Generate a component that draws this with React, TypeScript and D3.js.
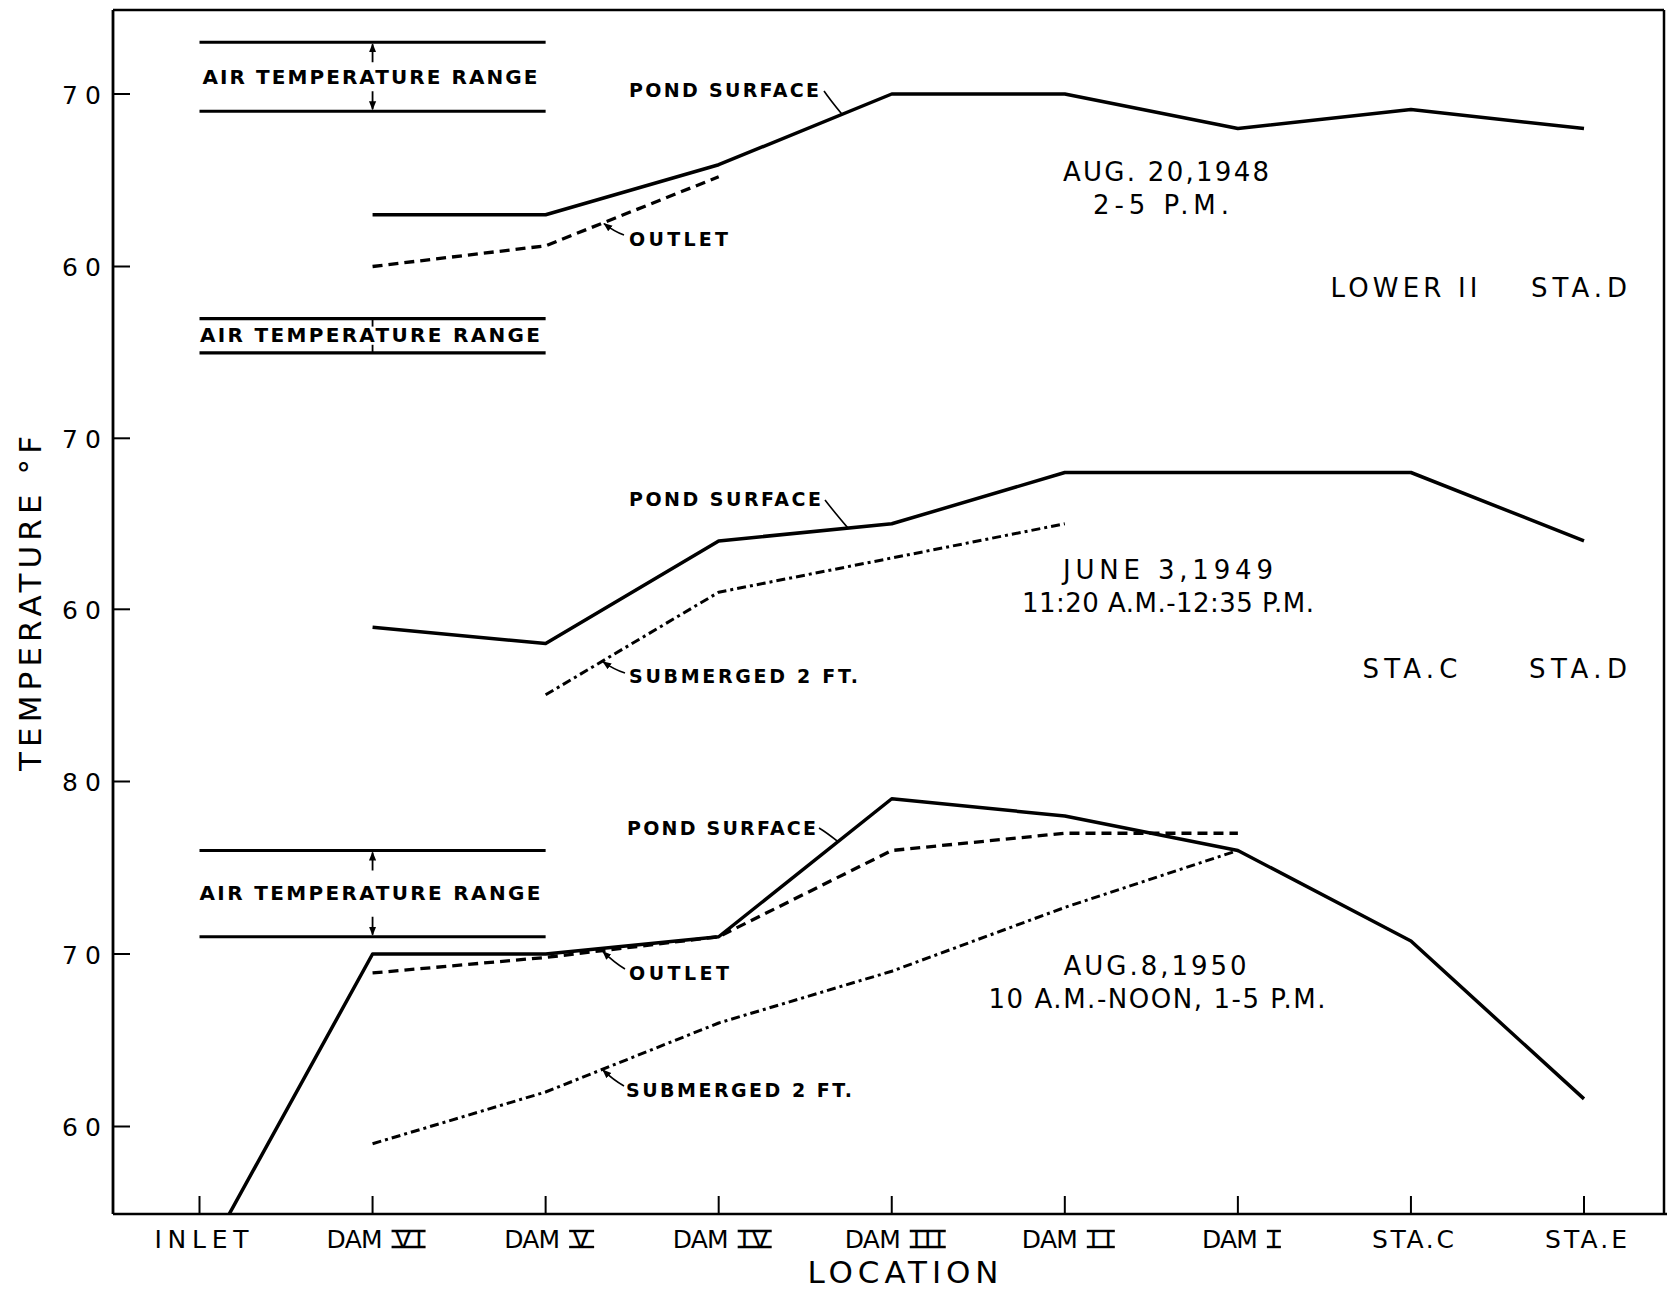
import React from "react";
import * as d3 from "d3";

// locations along the pond chain
const locations = ["INLET", "DAM VI", "DAM V", "DAM IV", "DAM III", "DAM II", "DAM I", "STA.C", "STA.E"];

// Aug 20, 1948
const pond1948 = [null, 63, 63, 65.9, 70, 70, 68, 69.1, 68];
const outlet1948 = [null, 60, 61.2, 65.2, null, null, null, null, null];
const air1948 = [69, 73];
const ticks1948 = [60, 70];

// June 3, 1949
const pond1949 = [null, 58.95, 58, 64, 65, 68, 68, 68, 64];
const sub1949 = [null, null, 55, 61, 63, 65, null, null, null];
const air1949 = [75, 77];
const ticks1949 = [60, 70];

// Aug 8, 1950
const pond1950 = [51.8, 70, 70, 71, 79, 78, 76, 70.75, 61.6];
const outlet1950 = [null, 68.9, 69.8, 71, 76, 77, 77, null, null];
const sub1950 = [null, 59, 62, 66, 69, 72.7, 76, null, null];
const air1950 = [71, 76];
const ticks1950 = [60, 70, 80];

const FONT = "DejaVu Sans";

type Series = (number | null)[];

export default function App() {
  const W = 1667;
  const H = 1289;
  const left = 113, right = 1664, top = 10, bottom = 1214;

  const x = d3.scalePoint<string>().domain(locations).range([199.5, 1584]);
  const y1 = d3.scaleLinear().domain([60, 70]).range([266.5, 94]);
  const y2 = d3.scaleLinear().domain([60, 70]).range([609.3, 438.3]);
  const y3 = d3.scaleLinear().domain([60, 80]).range([1126.5, 781.5]);

  const mkLine = (ys: d3.ScaleLinear<number, number>) =>
    d3.line<number | null>()
      .defined((d) => d != null)
      .x((_, i) => x(locations[i]) as number)
      .y((d) => ys(d as number));

  // y on a series' polyline at pixel px (for leader lines)
  const yAt = (s: Series, ys: d3.ScaleLinear<number, number>, px: number) => {
    for (let i = 0; i < s.length - 1; i++) {
      const x0 = x(locations[i]) as number, x1 = x(locations[i + 1]) as number;
      if (s[i] != null && s[i + 1] != null && px >= x0 && px <= x1) {
        const t = (px - x0) / (x1 - x0);
        return ys(s[i] as number) * (1 - t) + ys(s[i + 1] as number) * t;
      }
    }
    return 0;
  };

  const solid = { fill: "none", stroke: "#000", strokeWidth: 3.5, strokeLinejoin: "round" as const };
  const dashed = { ...solid, strokeWidth: 3.3, strokeDasharray: "10 6" };
  const dashDot = { ...solid, strokeWidth: 3, strokeDasharray: "9 4 3 4" };

  const lines = [
    { s: pond1948, ys: y1, st: solid },
    { s: outlet1948, ys: y1, st: dashed },
    { s: pond1949, ys: y2, st: solid },
    { s: sub1949, ys: y2, st: dashDot },
    { s: pond1950, ys: y3, st: solid },
    { s: outlet1950, ys: y3, st: dashed },
    { s: sub1950, ys: y3, st: dashDot },
  ];

  const panels = [
    { ticks: ticks1948, ys: y1 },
    { ticks: ticks1949, ys: y2 },
    { ticks: ticks1950, ys: y3 },
  ];

  const airs = [
    { r: air1948, ys: y1, base: 84, len: 335, arrows: "long" },
    { r: air1949, ys: y2, base: 342, len: 340, arrows: "short" },
    { r: air1950, ys: y3, base: 900, len: 341, arrows: "long" },
  ];

  const leaders = [
    { text: "POND SURFACE", tx: 629, base: 97, len: 190, sx: 824, sy: 91, ex: 842, s: pond1948, ys: y1, arrow: false },
    { text: "OUTLET", tx: 629, base: 246, len: 99, sx: 624, sy: 235, ex: 604, s: outlet1948, ys: y1, arrow: true },
    { text: "POND SURFACE", tx: 629, base: 506, len: 192, sx: 825, sy: 500, ex: 848, s: pond1949, ys: y2, arrow: false },
    { text: "SUBMERGED 2 FT.", tx: 629, base: 683, len: 229, sx: 625, sy: 673, ex: 603, s: sub1949, ys: y2, arrow: true },
    { text: "POND SURFACE", tx: 627, base: 835, len: 189, sx: 819, sy: 828, ex: 838, s: pond1950, ys: y3, arrow: false },
    { text: "OUTLET", tx: 629, base: 980, len: 100, sx: 625, sy: 969, ex: 603, s: outlet1950, ys: y3, arrow: true },
    { text: "SUBMERGED 2 FT.", tx: 626, base: 1097, len: 226, sx: 624, sy: 1086, ex: 603, s: sub1950, ys: y3, arrow: true },
  ];

  const notes = [
    { text: "AUG. 20,1948", cx: 1166, base: 181, len: 206 },
    { text: "2-5 P.M.", cx: 1161, base: 214, len: 136 },
    { text: "LOWER II", cx: 1404, base: 297, len: 147 },
    { text: "STA.D", cx: 1579, base: 297, len: 96 },
    { text: "JUNE 3,1949", cx: 1168, base: 579, len: 210 },
    { text: "11:20 A.M.-12:35 P.M.", cx: 1168, base: 612, len: 292 },
    { text: "STA.C", cx: 1410, base: 678, len: 95 },
    { text: "STA.D", cx: 1578, base: 678, len: 98 },
    { text: "AUG.8,1950", cx: 1155, base: 975, len: 183 },
    { text: "10 A.M.-NOON, 1-5 P.M.", cx: 1157, base: 1008, len: 337 },
  ];

  const xa = x("DAM VI") as number;

  // roman numeral widths for the barred numerals
  const numW: Record<string, number> = { I: 8, II: 22, III: 30, IV: 28, V: 19, VI: 28 };
  const XLB = 1248; // label baseline
  const CAP = 18;

  const xLabel = (loc: string) => {
    const cx = (x(loc) as number) + 2;
    const m = loc.match(/^DAM (.+)$/);
    if (!m) {
      return (
        <text x={cx} y={XLB} textAnchor="middle" fontFamily={FONT} fontSize={25}
          textLength={loc === "INLET" ? 94 : 82} lengthAdjust="spacing">{loc}</text>
      );
    }
    const nw = numW[m[1]];
    const damW = 56, gap = 12;
    const start = cx - (damW + gap + nw) / 2;
    const ns = start + damW + gap;
    return (
      <text x={start} y={XLB} fontFamily={FONT} fontSize={25}>
        <tspan textLength={damW} lengthAdjust="spacing">DAM</tspan>
        <tspan x={ns} textLength={nw} lengthAdjust="spacing">{m[1]}</tspan>
      </text>
    );
  };

  const xBars = (loc: string) => {
    const m = loc.match(/^DAM (.+)$/);
    if (!m) return null;
    const cx = (x(loc) as number) + 2;
    const nw = numW[m[1]];
    const damW = 56, gap = 12;
    const ns = cx - (damW + gap + nw) / 2 + damW + gap;
    return (
      <g stroke="#000" strokeWidth={2.4}>
        <line x1={ns - 3} x2={ns + nw + 3} y1={XLB - CAP + 1} y2={XLB - CAP + 1} />
        <line x1={ns - 3} x2={ns + nw + 3} y1={XLB - 1} y2={XLB - 1} />
      </g>
    );
  };

  return (
    <svg width={W} height={H} viewBox={`0 0 ${W} ${H}`}
      style={{ position: "absolute", left: 0, top: 0, background: "#fff" }}>
      <defs>
        <clipPath id="plot">
          <rect x={left} y={top} width={right - left} height={bottom - top} />
        </clipPath>
        <marker id="arr" viewBox="0 0 10 10" refX="9" refY="5" markerWidth="9" markerHeight="9"
          markerUnits="userSpaceOnUse" orient="auto">
          <path d="M0,1 L10,5 L0,9 z" fill="#000" />
        </marker>
      </defs>
      <rect width={W} height={H} fill="#fff" />

      {/* frame and axes */}
      <g stroke="#000" fill="none">
        <line x1={left} y1={top} x2={right} y2={top} strokeWidth={2.5} />
        <line x1={right} y1={top} x2={right} y2={bottom} strokeWidth={2.5} />
        <line x1={left} y1={top} x2={left} y2={bottom} strokeWidth={2.8} />
        <line x1={left} y1={bottom} x2={W} y2={bottom} strokeWidth={2.5} />
      </g>

      {/* y ticks and labels */}
      {panels.map((p, pi) =>
        p.ticks.map((t) => (
          <g key={`${pi}-${t}`}>
            <line x1={left} x2={left + 17} y1={p.ys(t)} y2={p.ys(t)} stroke="#000" strokeWidth={2} />
            <text x={101} y={p.ys(t) + 9.5} textAnchor="end" fontFamily={FONT} fontSize={25}
              textLength={39} lengthAdjust="spacing">{t}</text>
          </g>
        ))
      )}

      {/* x ticks and labels */}
      {locations.map((loc) => (
        <g key={loc}>
          <line x1={x(loc)} x2={x(loc)} y1={bottom} y2={bottom - 18} stroke="#000" strokeWidth={2} />
          {xLabel(loc)}
          {xBars(loc)}
        </g>
      ))}
      <text x={903} y={1283} textAnchor="middle" fontFamily={FONT} fontSize={31}
        textLength={191} lengthAdjust="spacing">LOCATION</text>
      <text transform="translate(41,603.5) rotate(-90)" textAnchor="middle" fontFamily={FONT} fontSize={31}
        textLength={335} lengthAdjust="spacing">TEMPERATURE °F</text>

      {/* air temperature ranges */}
      {airs.map((a, i) => {
        const yl = a.ys(a.r[0]), yh = a.ys(a.r[1]);
        const x0 = x("INLET") as number, x1 = x("DAM V") as number;
        return (
          <g key={i}>
            <line x1={x0} x2={x1} y1={yh} y2={yh} stroke="#000" strokeWidth={3.2} />
            <line x1={x0} x2={x1} y1={yl} y2={yl} stroke="#000" strokeWidth={3.2} />
            {a.arrows === "long" ? (
              <>
                <line x1={xa} x2={xa} y1={yh + 20} y2={yh + 2} stroke="#000" strokeWidth={1.8} markerEnd="url(#arr)" />
                <line x1={xa} x2={xa} y1={yl - 20} y2={yl - 2} stroke="#000" strokeWidth={1.8} markerEnd="url(#arr)" />
              </>
            ) : (
              <>
                <line x1={xa} x2={xa} y1={yh} y2={yh + 8} stroke="#000" strokeWidth={1.8} />
                <line x1={xa} x2={xa} y1={yl} y2={yl - 8} stroke="#000" strokeWidth={1.8} />
              </>
            )}
            <text x={370} y={a.base} textAnchor="middle" fontFamily={FONT} fontWeight="bold" fontSize={20}
              textLength={a.len} lengthAdjust="spacing">AIR TEMPERATURE RANGE</text>
          </g>
        );
      })}

      {/* temperature profiles */}
      <g clipPath="url(#plot)">
        {lines.map((l, i) => (
          <path key={i} d={mkLine(l.ys)(l.s) || ""} {...l.st} />
        ))}
      </g>

      {/* series labels with leaders */}
      {leaders.map((l, i) => {
        const ey = yAt(l.s, l.ys, l.ex) + (l.arrow ? 1 : 0);
        const mx = (l.sx + l.ex) / 2 + (l.arrow ? 0 : -3);
        const my = (l.sy + ey) / 2 + (l.arrow ? 2 : -3);
        return (
          <g key={i}>
            <text x={l.tx} y={l.base} fontFamily={FONT} fontWeight="bold" fontSize={19}
              textLength={l.len} lengthAdjust="spacing">{l.text}</text>
            <path d={`M${l.sx},${l.sy} Q${mx},${my} ${l.ex},${ey}`} fill="none" stroke="#000"
              strokeWidth={1.6} markerEnd={l.arrow ? "url(#arr)" : undefined} />
          </g>
        );
      })}

      {/* date and station notes */}
      {notes.map((n, i) => (
        <text key={i} x={n.cx} y={n.base} textAnchor="middle" fontFamily={FONT} fontSize={26}
          textLength={n.len} lengthAdjust="spacing">{n.text}</text>
      ))}
    </svg>
  );
}
